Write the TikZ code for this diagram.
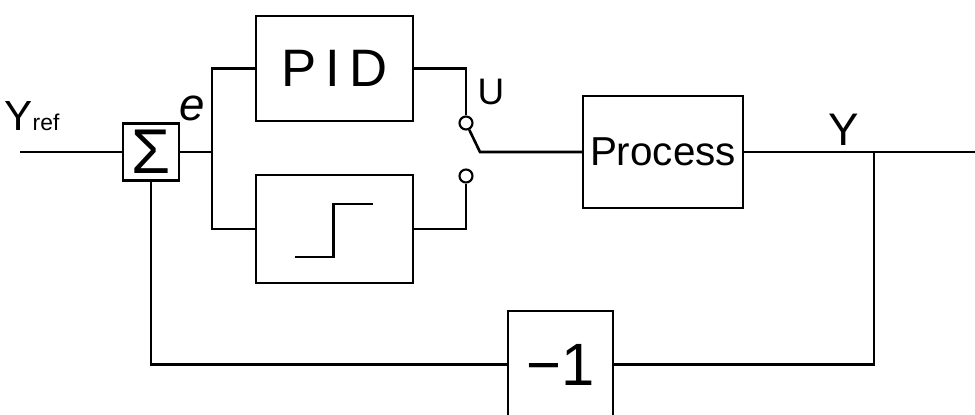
\documentclass[tikz,border=0pt]{standalone}
\usepackage{fontspec}
\setmainfont{Liberation Sans}
\usetikzlibrary{positioning}

\begin{document}
\begin{tikzpicture}[x=0.02cm, y=-0.02cm, line width=1.5pt,
    blk/.style={draw, inner sep=0pt, outer sep=0pt},
    contact/.style={draw, circle, fill=white, line width=1.2pt,
                    minimum size=0.26cm, inner sep=0pt},
    lbl/.style={inner sep=0pt}]
    \useasboundingbox (0,0) rectangle (975,414);
    % blocks
    \node[blk, minimum width=1.12cm, minimum height=1.14cm,
          font=\fontsize{36}{36}\selectfont] (sum) at (151,152) {Σ};
    \node[blk, minimum width=3.14cm, minimum height=2.1cm,
          font=\fontsize{30}{30}\selectfont] (pid) at (334.5,68.5) {P\,I\,D};
    \node[blk, minimum width=3.14cm, minimum height=2.16cm] (relay) at (334.5,229) {};
    \node[blk, minimum width=3.2cm, minimum height=2.24cm,
          font=\fontsize{23}{23}\selectfont] (proc) at (663,152) {Process};
    \node[blk, minimum width=2.1cm, minimum height=2.14cm,
          font=\fontsize{34}{34}\selectfont] (neg) at (560.5,364.5) {−1};
    % switch contacts
    \node[contact] (up) at (466,123) {};
    \node[contact] (lo) at (466,176) {};
    \coordinate (piv) at (480,152);
    % free ends and branch points
    \coordinate (in) at (20,152);
    \coordinate (out) at (975,152);
    \coordinate (br) at (212,152);
    \coordinate (tap) at (874,152);
    % relay characteristic
    \draw ([shift={(-40,28)}]relay.center) -- ++(39,0) -- ++(0,-53) -- ++(39,0);
    % labels
    \node[lbl, font=\fontsize{24}{24}\selectfont] (yref) at (32,116)
        {Y{\fontsize{13}{13}\selectfont ref}};
    \node[lbl, font=\fontsize{26}{26}\selectfont\itshape] (e) at (192,108) {e};
    \node[lbl, font=\fontsize{21}{21}\selectfont] (u) at (491,92) {U};
    \node[lbl, font=\fontsize{26}{26}\selectfont] (y) at (844,130) {Y};
    % connections
    \draw (in) -- (sum);
    \draw (sum) -- (br);
    \draw (pid.west) -| (br) |- (relay.west);
    \draw (pid.east) -| (up);
    \draw (relay.east) -| (lo);
    \draw (up) -- (piv) -- (proc);
    \draw (proc) -- (out);
    \draw (tap) |- (neg);
    \draw (neg) -| (sum);
\end{tikzpicture}
\end{document}
